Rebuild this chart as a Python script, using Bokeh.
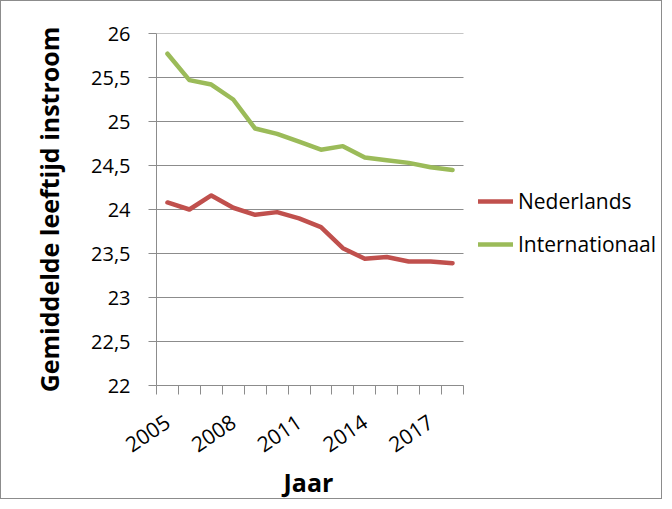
from bokeh.plotting import figure
from bokeh.models import FixedTicker, CustomJSTickFormatter, Legend, LegendItem, Title
from bokeh.embed import file_html
from bokeh.resources import INLINE
import math

years = [2005, 2006, 2007, 2008, 2009, 2010, 2011, 2012, 2013, 2014, 2015, 2016, 2017, 2018]
nederlands = [24.08, 24.00, 24.16, 24.02, 23.94, 23.97, 23.90, 23.80, 23.56, 23.44, 23.46, 23.41, 23.41, 23.39]
internationaal = [25.77, 25.47, 25.42, 25.25, 24.92, 24.86, 24.77, 24.68, 24.72, 24.59, 24.56, 24.53, 24.48, 24.45]
labeled_years = [2005, 2008, 2011, 2014, 2017]
y_ticks = [22, 22.5, 23, 23.5, 24, 24.5, 25, 25.5, 26]

FONT = "Open Sans"
GRID = "#8c8c8c"

W, H = 662, 499
LEFT, TOP, BOTTOM = 155, 32, 115
PLOT_W = 307  # width of the area holding the 14 years
x0 = years[0] - 0.5
x1 = years[-1] + 0.5
frame_w = W - LEFT
x_end = x0 + (x1 - x0) * frame_w / PLOT_W

p = figure(width=W, height=H, output_backend="svg", toolbar_location=None,
           x_range=(x0, x_end), y_range=(22, 26),
           min_border_left=LEFT, min_border_right=0, min_border_top=TOP, min_border_bottom=BOTTOM)
p.styles = {"border": "1px solid #8c8c8c"}
p.outline_line_color = None
p.background_fill_color = "white"
p.border_fill_color = "white"

# horizontal gridlines limited to the year area
p.segment(x0=[x0] * len(y_ticks), x1=[x1] * len(y_ticks), y0=y_ticks, y1=y_ticks,
          line_color=GRID, line_width=1)

r1 = p.line(years, nederlands, line_color="#C0504D", line_width=4.5, line_join="round", line_cap="round")
r2 = p.line(years, internationaal, line_color="#9BBB59", line_width=4.5, line_join="round", line_cap="round")

# x axis
xt = FixedTicker(ticks=labeled_years, minor_ticks=[y - 0.5 for y in years] + [x1])
p.xaxis.ticker = xt
p.xaxis.bounds = (x0, x1)
p.xaxis.major_tick_out = 0
p.xaxis.major_tick_in = 0
p.xaxis.minor_tick_out = 9
p.xaxis.minor_tick_in = 0
p.xaxis.minor_tick_line_color = GRID
p.xaxis.axis_line_color = GRID
p.xaxis.major_label_orientation = math.radians(34)
p.xaxis.major_label_text_font = FONT
p.xaxis.major_label_text_font_size = "21px"
p.xaxis.major_label_text_color = "black"
p.xaxis.major_label_standoff = 25

# axis title placed under the year area
p.add_layout(Title(text="Jaar", align="left", offset=127, standoff=0,
                   text_font=FONT, text_font_size="25px", text_font_style="bold",
                   text_color="black"), "below")

# y axis
p.yaxis.ticker = FixedTicker(ticks=y_ticks, minor_ticks=[])
p.yaxis.formatter = CustomJSTickFormatter(code="return tick.toString().replace('.', ',');")
p.yaxis.major_tick_out = 8
p.yaxis.major_tick_in = 0
p.yaxis.major_tick_line_color = GRID
p.yaxis.axis_line_color = GRID
p.yaxis.major_label_text_font = FONT
p.yaxis.major_label_text_font_size = "20px"
p.yaxis.major_label_text_color = "black"
p.yaxis.major_label_standoff = 18
p.yaxis.axis_label = "Gemiddelde leeftijd instroom"
p.yaxis.axis_label_text_font = FONT
p.yaxis.axis_label_text_font_size = "25px"
p.yaxis.axis_label_text_font_style = "bold"
p.yaxis.axis_label_text_color = "black"
p.yaxis.axis_label_standoff = 22

p.xgrid.grid_line_color = None
p.ygrid.grid_line_color = None

legend = Legend(items=[LegendItem(label="Nederlands", renderers=[r1]),
                       LegendItem(label="Internationaal", renderers=[r2])],
                location=(322, 127), orientation="vertical",
                padding=0, margin=0, spacing=15,
                glyph_width=35, glyph_height=22, label_height=22, label_standoff=5,
                label_text_font=FONT, label_text_font_size="21px", label_text_color="black",
                border_line_color=None, background_fill_alpha=0)
p.add_layout(legend, "center")

open("out.html", "w").write(file_html(p, INLINE))
